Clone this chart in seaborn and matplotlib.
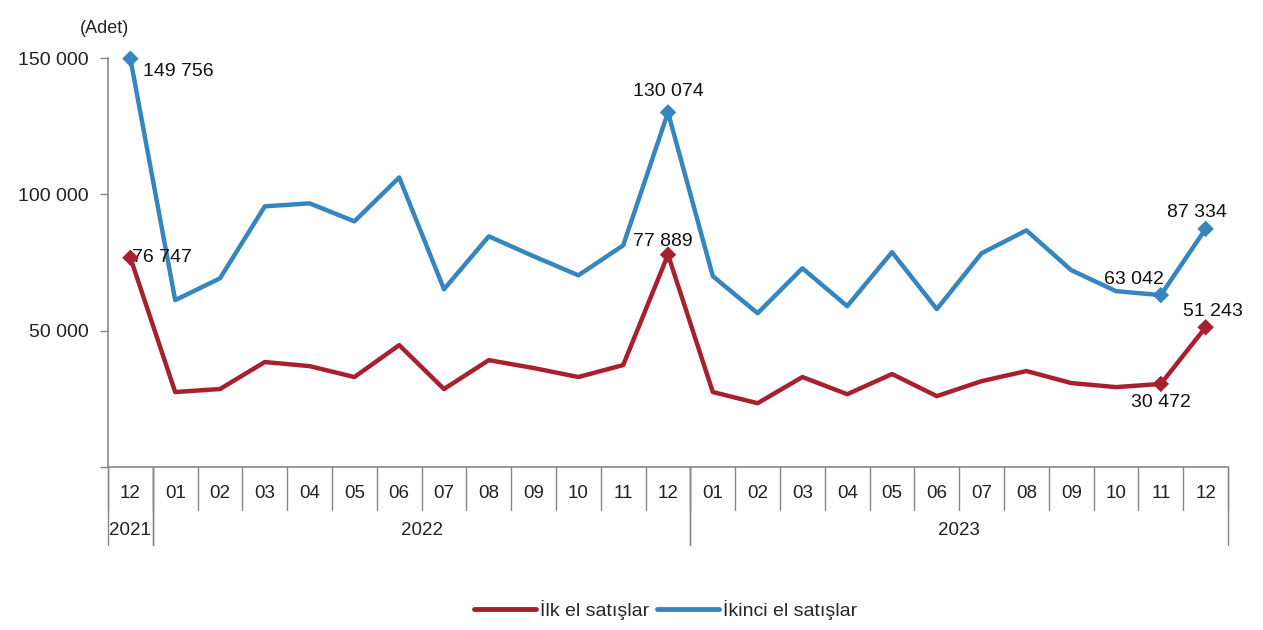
import pandas as pd
import seaborn as sns
import matplotlib.pyplot as plt
import matplotlib.transforms as mtransforms
from matplotlib.lines import Line2D

sns.set_theme(style="white")
plt.rcParams["font.family"] = ["Liberation Sans", "DejaVu Sans"]

# data
months = ["12", "01", "02", "03", "04", "05", "06", "07", "08", "09", "10", "11", "12",
          "01", "02", "03", "04", "05", "06", "07", "08", "09", "10", "11", "12"]
years = ["2021", "2022", "2023"]
year_spans = [(0, 0), (1, 12), (13, 24)]
ilk_el = [76747, 27500, 28600, 38500, 37000, 33000, 44700, 28600, 39200, 36300, 33000, 37400, 77889,
          27500, 23400, 33000, 26700, 34100, 26000, 31500, 35200, 30800, 29300, 30472, 51243]
ikinci_el = [149756, 61200, 69200, 95600, 96700, 90100, 106200, 65200, 84600, 77300, 70300, 81300, 130074,
             70000, 56400, 72900, 59000, 78800, 57900, 78400, 86800, 72200, 64500, 63042, 87334]
labeled = [0, 12, 23, 24]

red = "#A8202E"
blue = "#3585BF"

df = pd.DataFrame({"idx": range(len(months)), "İlk el satışlar": ilk_el,
                   "İkinci el satışlar": ikinci_el})
long = df.melt(id_vars="idx", var_name="seri", value_name="adet")

fig = plt.figure(figsize=(12.63, 6.30), dpi=100)
ax = fig.add_axes([0.0855, 0.2587, 0.8868, 0.6492])

sns.lineplot(data=long, x="idx", y="adet", hue="seri", palette=[red, blue],
             linewidth=3.2, ax=ax, legend=False)
pts = long[long.idx.isin(labeled)]
sns.scatterplot(data=pts, x="idx", y="adet", hue="seri", palette=[red, blue],
                marker="D", s=70, edgecolor="none", ax=ax, legend=False, zorder=5,
                clip_on=False)

ax.set_xlim(-0.5, len(months) - 0.5)
ax.set_ylim(0, 150000)
ax.set_yticks([0, 50000, 100000, 150000])
ax.set_yticklabels(["", "50 000", "100 000", "150 000"], fontsize=14, color="#222222")
ax.tick_params(axis="y", length=6, width=1, color="#888888", pad=8, left=True)
ax.set_xticks([])
ax.set(xlabel="", ylabel="")
for s in ["top", "right"]:
    ax.spines[s].set_visible(False)
for s in ["left", "bottom"]:
    ax.spines[s].set_color("#888888")
    ax.spines[s].set_linewidth(1.2)

ax.text(-0.003, 1.06, "(Adet)", transform=ax.transAxes, ha="center", fontsize=13, color="#222222")

# data labels
def fmt(v):
    return f"{v:,}".replace(",", " ")

lab_kw = dict(fontsize=14, color="#111111")
ax.annotate(fmt(ikinci_el[0]), (0, ikinci_el[0]), xytext=(9, -3), textcoords="offset points",
            ha="left", va="top", **lab_kw)
ax.annotate(fmt(ilk_el[0]), (0, ilk_el[0]), xytext=(1, 0), textcoords="offset points",
            ha="left", va="center", **lab_kw)
ax.annotate(fmt(ikinci_el[12]), (12, ikinci_el[12]), xytext=(0, 9), textcoords="offset points",
            ha="center", va="bottom", **lab_kw)
ax.annotate(fmt(ilk_el[12]), (12, ilk_el[12]), xytext=(-4, 3), textcoords="offset points",
            ha="center", va="bottom", **lab_kw)
ax.annotate(fmt(ikinci_el[23]), (23, ikinci_el[23]), xytext=(-19, 5), textcoords="offset points",
            ha="center", va="bottom", **lab_kw)
ax.annotate(fmt(ikinci_el[24]), (24, ikinci_el[24]), xytext=(-6, 6), textcoords="offset points",
            ha="center", va="bottom", **lab_kw)
ax.annotate(fmt(ilk_el[24]), (24, ilk_el[24]), xytext=(5, 5), textcoords="offset points",
            ha="center", va="bottom", **lab_kw)
ax.annotate(fmt(ilk_el[23]), (23, ilk_el[23]), xytext=(0, -7), textcoords="offset points",
            ha="center", va="top", **lab_kw)

# category axis: months, separators, years
trans = mtransforms.blended_transform_factory(ax.transData, ax.transAxes)
sep_kw = dict(color="#888888", linewidth=1, transform=trans, clip_on=False)
for i, m in enumerate(months):
    ax.text(i, -0.065, m, transform=trans, ha="center", va="center", fontsize=13.5, color="#222222")
for i in range(len(months) + 1):
    ax.add_line(Line2D([i - 0.5, i - 0.5], [0, -0.105], **sep_kw))
for (a, b), y in zip(year_spans, years):
    ax.text((a + b) / 2, -0.155, y, transform=trans, ha="center", va="center",
            fontsize=13.5, color="#222222")
    for e in (a - 0.5, b + 0.5):
        ax.add_line(Line2D([e, e], [0, -0.19], **sep_kw))

handles = [Line2D([], [], color=red, linewidth=3.5), Line2D([], [], color=blue, linewidth=3.5)]
fig.legend(handles, ["İlk el satışlar", "İkinci el satışlar"], loc="center",
           bbox_to_anchor=(0.527, 0.032), ncol=2, frameon=False, fontsize=14,
           handlelength=3.2, handletextpad=0.2, columnspacing=0.4)

fig.savefig("out.png", dpi=100)
